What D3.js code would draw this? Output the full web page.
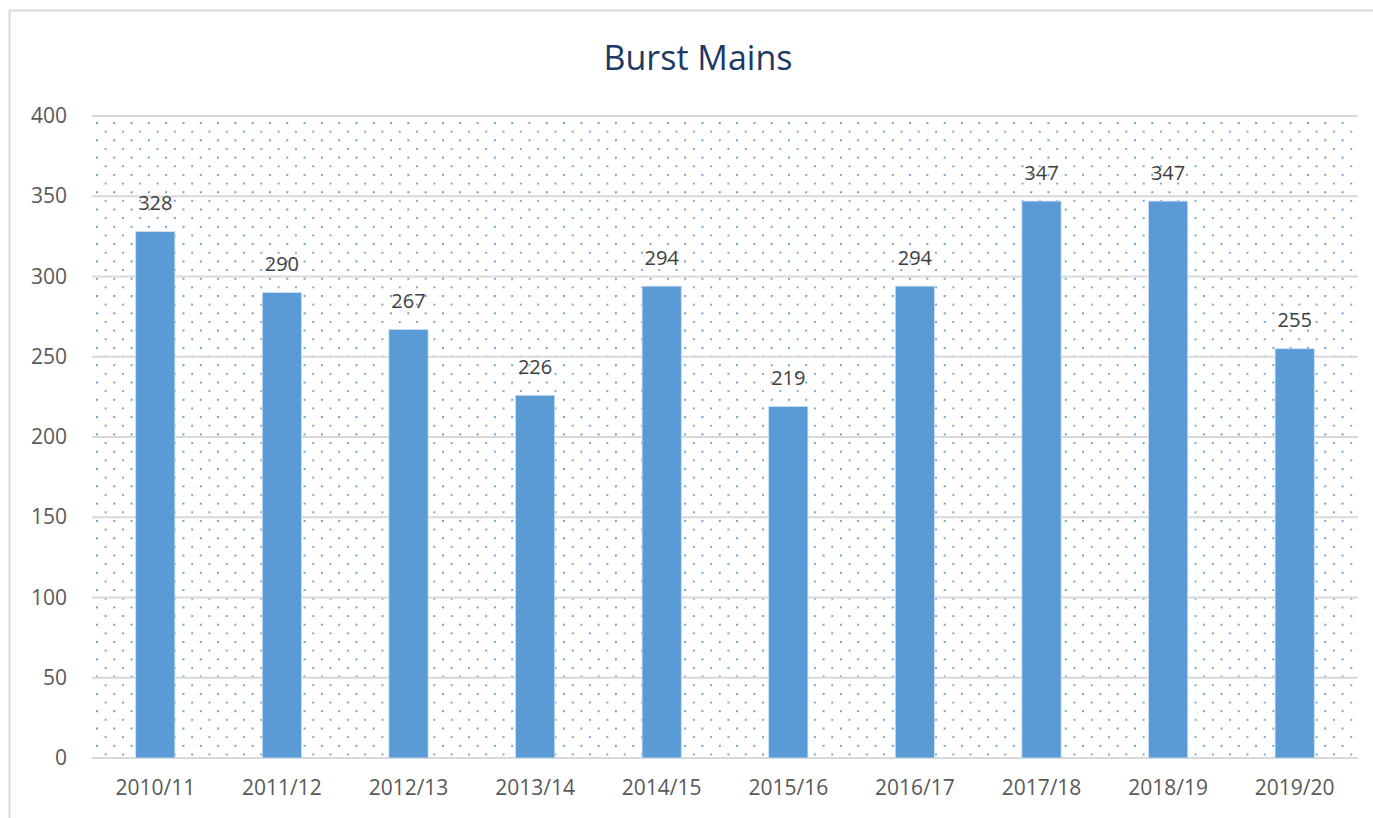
<!DOCTYPE html>
<html>
<head>
<meta charset="utf-8">
<script src="https://cdn.jsdelivr.net/npm/d3@7"></script>
<style>
  body { margin: 0; background: #fff; }
  text { font-family: "Open Sans", "Liberation Sans", sans-serif; }
</style>
</head>
<body>
<div id="chart"></div>
<script>
// data
var years = ['2010/11', '2011/12', '2012/13', '2013/14', '2014/15', '2015/16', '2016/17', '2017/18', '2018/19', '2019/20'];
var bursts = [328, 290, 267, 226, 294, 219, 294, 347, 347, 255];
var yTicks = [0, 50, 100, 150, 200, 250, 300, 350, 400];

var width = 1373;
var height = 818;
var margin = { top: 116, right: 15, bottom: 60, left: 92 };

var svg = d3.select('#chart')
  .append('svg')
  .attr('width', width)
  .attr('height', height);

// dotted fill for the plot area
var defs = svg.append('defs');
var pat = defs.append('pattern')
  .attr('id', 'dots')
  .attr('patternUnits', 'userSpaceOnUse')
  .attr('x', margin.left + 4)
  .attr('y', margin.top + 6)
  .attr('width', 17.3)
  .attr('height', 17.3);
pat.append('circle').attr('cx', 1).attr('cy', 1).attr('r', 1.1).attr('fill', '#5b9bd5');
pat.append('circle').attr('cx', 9.65).attr('cy', 9.65).attr('r', 1.1).attr('fill', '#5b9bd5');

// chart frame (top + left edges only visible)
svg.append('line')
  .attr('x1', 9.5).attr('x2', width).attr('y1', 10.5).attr('y2', 10.5)
  .attr('stroke', '#d9d9d9').attr('stroke-width', 2);
svg.append('line')
  .attr('x1', 9.5).attr('x2', 9.5).attr('y1', 10).attr('y2', height)
  .attr('stroke', '#d9d9d9').attr('stroke-width', 2);

var x = d3.scaleBand()
  .domain(years)
  .range([margin.left, width - margin.right])
  .paddingInner(0.69)
  .paddingOuter(0.345);

var y = d3.scaleLinear()
  .domain([0, 400])
  .range([height - margin.bottom, margin.top]);

svg.append('rect')
  .attr('x', margin.left)
  .attr('y', margin.top)
  .attr('width', width - margin.right - margin.left)
  .attr('height', y(0) - margin.top)
  .attr('fill', 'url(#dots)');

// gridlines
svg.append('g')
  .selectAll('line')
  .data(yTicks)
  .enter()
  .append('line')
    .attr('x1', margin.left)
    .attr('x2', width - margin.right)
    .attr('y1', function(d) { return y(d); })
    .attr('y2', function(d) { return y(d); })
    .attr('stroke', '#d9d9d9')
    .attr('stroke-width', 2);

// y axis labels
var yAxis = d3.axisLeft(y).tickValues(yTicks).tickSize(0).tickPadding(25);
svg.append('g')
  .attr('transform', 'translate(' + margin.left + ',0)')
  .call(yAxis)
  .call(function(g) { g.select('.domain').remove(); })
  .selectAll('text')
    .attr('fill', '#595959')
    .style('font-size', '21px');

// x axis labels
var xAxis = d3.axisBottom(x).tickSize(0).tickPadding(22);
svg.append('g')
  .attr('transform', 'translate(0,' + y(0) + ')')
  .call(xAxis)
  .call(function(g) { g.select('.domain').remove(); })
  .selectAll('text')
    .attr('fill', '#595959')
    .style('font-size', '21px');

// bars
svg.append('g')
  .selectAll('rect')
  .data(bursts)
  .enter()
  .append('rect')
    .attr('x', function(d, i) { return x(years[i]); })
    .attr('y', function(d) { return y(d); })
    .attr('width', x.bandwidth())
    .attr('height', function(d) { return y(0) - y(d); })
    .attr('fill', '#5b9bd5')
    .attr('stroke', '#cfe0f1')
    .attr('stroke-width', 0.8);

// value labels
svg.append('g')
  .selectAll('text')
  .data(bursts)
  .enter()
  .append('text')
    .attr('x', function(d, i) { return x(years[i]) + x.bandwidth() / 2; })
    .attr('y', function(d) { return y(d) - 29; })
    .attr('text-anchor', 'middle')
    .attr('dominant-baseline', 'central')
    .attr('fill', '#404040')
    .style('font-size', '20px')
    .text(function(d) { return d; });

// title
svg.append('text')
  .attr('x', 698)
  .attr('y', 57)
  .attr('text-anchor', 'middle')
  .attr('dominant-baseline', 'central')
  .attr('fill', '#203864')
  .style('font-size', '34px')
  .text('Burst Mains');
</script>
</body>
</html>
